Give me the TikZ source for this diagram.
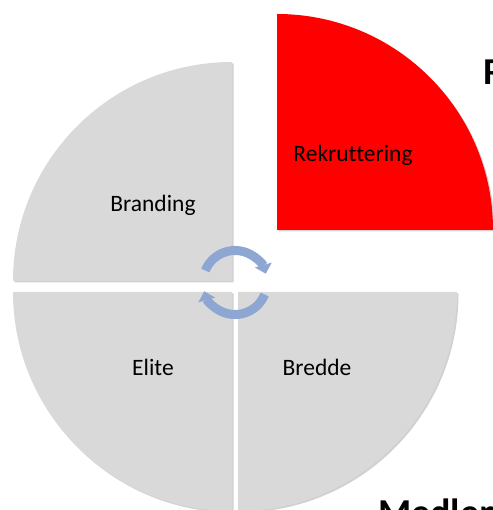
\documentclass[tikz,border=0pt]{standalone}
\usepackage{fontspec}
\setmainfont{Carlito}[Ligatures={NoCommon}]
\usetikzlibrary{arrows.meta,shadows,calc}
\definecolor{quadgray}{RGB}{217,217,217}
\definecolor{quadred}{RGB}{255,0,0}
\definecolor{cyclecol}{RGB}{141,166,210}
\tikzset{
  quad/.style={drop shadow={shadow xshift=1.5pt,shadow yshift=-1.5pt,opacity=0.18,fill=black}},
  lbl/.style={font=\fontsize{23.5}{28}\selectfont,text=black,inner sep=0pt},
  bigtxt/.style={font=\fontsize{38}{44}\selectfont\bfseries,text=black,inner sep=0pt,anchor=base west},
  cyc/.style={draw=cyclecol,line width=9pt,-{Triangle[width=17pt,length=9pt]}}
}
\begin{document}
\begin{tikzpicture}[x=1pt,y=1pt]
\useasboundingbox (0,0) rectangle (492,510);
\fill[white] (0,0) rectangle (492,510);
% quadrants
\fill[quadgray,quad] (232,229) -- ++(-219,0) arc[start angle=180,end angle=90,radius=219] -- cycle;
\fill[quadred,quad] (277,280) -- ++(216,0) arc[start angle=0,end angle=90,radius=216] -- cycle;
\fill[quadgray,quad] (232,218) -- ++(0,-219) arc[start angle=270,end angle=180,radius=219] -- cycle;
\fill[quadgray,quad] (238,218) -- ++(219,0) arc[start angle=0,end angle=-90,radius=219] -- cycle;
% labels
\node[lbl] (branding) at (153,305) {Branding};
\node[lbl] (rekr) at (353,355) {Rekruttering};
\node[lbl] (elite) at (153,143) {Elite};
\node[lbl] (bredde) at (317,143) {Bredde};
\node[bigtxt] (rtxt) at (483,425) {R};
\node[bigtxt] (medlem) at (378,-15) {Medlem};
% cycle arrows
\coordinate (cc) at (235,227.5);
\draw[cyc] ($(cc)+(158:32)$) arc[start angle=158,end angle=16,radius=32];
\draw[cyc] ($(cc)+(-22:32)$) arc[start angle=-22,end angle=-164,radius=32];
\end{tikzpicture}
\end{document}
